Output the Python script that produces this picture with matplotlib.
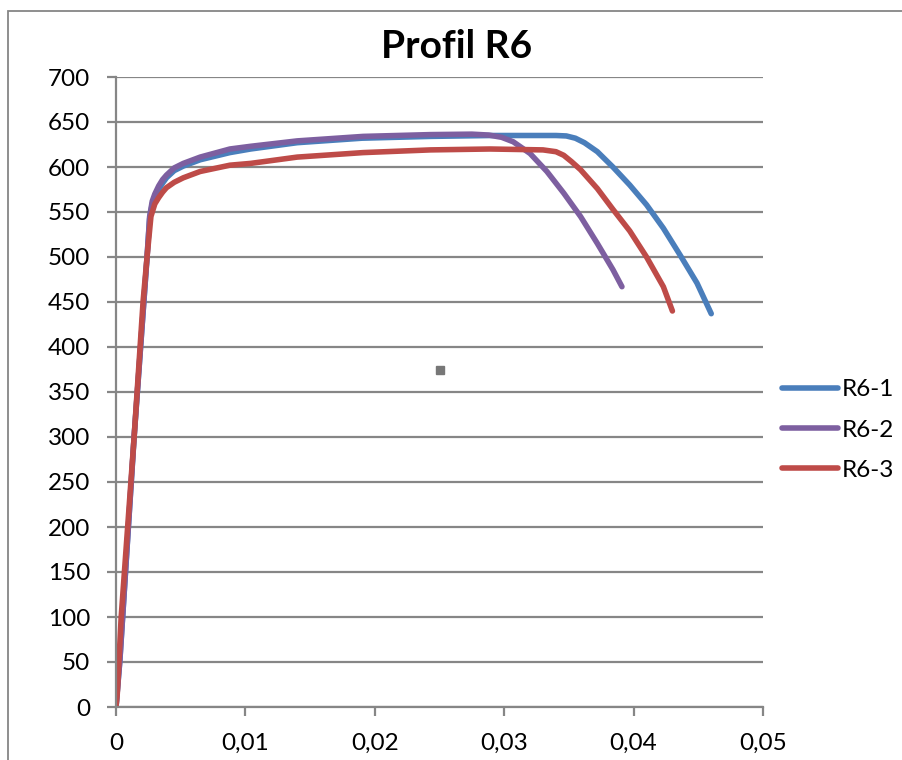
import matplotlib
matplotlib.use("Agg")
from matplotlib import pyplot as plt
from matplotlib.patches import Rectangle
from matplotlib.ticker import FuncFormatter

# strain / stress
r61_x = [0, 0.0003, 0.0014, 0.0024, 0.0026, 0.0028, 0.0030, 0.0033, 0.0036, 0.0039, 0.0045,
         0.0052, 0.0065, 0.0088, 0.0104, 0.014, 0.019, 0.0243, 0.029, 0.0340, 0.0348,
         0.0355, 0.0362, 0.0372, 0.0384, 0.0397, 0.0410, 0.0423, 0.0436, 0.0449, 0.0460]
r61_y = [0, 52, 300, 500, 543, 559, 567, 575, 582, 588, 596,
         601, 608, 616, 620, 627, 632, 634, 635, 635, 634.5,
         632, 627, 617, 600, 580, 558, 532, 502, 471, 437]

r62_x = [0, 0.0003, 0.0014, 0.0024, 0.0026, 0.0028, 0.0030, 0.0033, 0.0036, 0.0039, 0.0045,
         0.0052, 0.0065, 0.0088, 0.0104, 0.014, 0.0191, 0.0243, 0.0275, 0.0288, 0.0298,
         0.0307, 0.032, 0.0333, 0.0346, 0.0359, 0.0372, 0.0384, 0.0391]
r62_y = [0, 52, 300, 500, 545, 562, 570, 579, 586, 591, 599,
         604, 611, 620, 623, 629, 634, 636, 636.5, 635.5, 633,
         628, 615, 595, 571, 545, 515, 486, 467]

r63_x = [0, 0.0001, 0.0004, 0.0014, 0.0021, 0.0024, 0.0027, 0.0030, 0.0033, 0.0036, 0.0039,
         0.0045, 0.0052, 0.0065, 0.0088, 0.0104, 0.014, 0.0191, 0.0243, 0.0289, 0.0330,
         0.0340, 0.0346, 0.0352, 0.0359, 0.0372, 0.0384, 0.0397, 0.041, 0.0423, 0.043]
r63_y = [0, 15, 100, 300, 452, 500, 545, 559, 566, 572, 577,
         583, 588, 595, 602, 604, 611, 616, 619, 620, 619,
         617, 613, 606, 597, 576, 553, 529, 500, 467, 440]

# stray marker in the chart
stray_x = [0.025]
stray_y = [375]

labels = ["R6-1", "R6-2", "R6-3"]
colors = ["#4A7EBB", "#7D5FA0", "#BE4B48"]
x_ticks = [0, 0.01, 0.02, 0.03, 0.04, 0.05]
y_ticks = list(range(0, 701, 50))

plt.rcParams['font.family'] = ['Lato', 'DejaVu Sans']
grey = "#868686"

fig = plt.figure(figsize=(9.02, 7.6), dpi=100)
# outer chart border (cropped on the right / bottom)
fig.patches.append(Rectangle((8 / 902, -0.1), 1.2, 1.1 - 11 / 760, transform=fig.transFigure,
                             fill=False, edgecolor=grey, linewidth=1.3))

ax = fig.add_axes([116 / 902, 1 - 707 / 760, 647 / 902, 630 / 760])
for xs, ys, lab, col in zip([r61_x, r62_x, r63_x], [r61_y, r62_y, r63_y], labels, colors):
    ax.plot(xs, ys, color=col, linewidth=4.0, label=lab,
            solid_capstyle="round", solid_joinstyle="round")
ax.plot(stray_x, stray_y, marker="s", markersize=5.8, color="#777777", linestyle="none")

ax.set_xlim(0, 0.05)
ax.set_ylim(0, 700)
ax.set_xticks(x_ticks)
ax.set_yticks(y_ticks)
ax.xaxis.set_major_formatter(FuncFormatter(lambda v, p: "0" if v == 0 else ("%g" % v).replace(".", ",")))
ax.yaxis.grid(True, color=grey, linewidth=1.6)
ax.set_axisbelow(True)
for s in ["top", "right"]:
    ax.spines[s].set_visible(False)
for s in ["left", "bottom"]:
    ax.spines[s].set_color(grey)
    ax.spines[s].set_linewidth(1.6)
ax.tick_params(axis="both", colors=grey, width=1.6, length=6.5, labelsize=17.5, labelcolor="black")
ax.tick_params(axis="y", pad=12)
ax.tick_params(axis="x", pad=12)

fig.text(457 / 902, 1 - 46 / 760, "Profil R6", ha="center", va="center",
         fontsize=28, fontweight="bold")

fig.legend(loc="center left", bbox_to_anchor=(770 / 902, 1 - 430 / 760), frameon=False,
           fontsize=17.5, handlelength=2.3, handletextpad=0.15, labelspacing=0.8, borderpad=0)

fig.savefig("out.png", dpi=100)
